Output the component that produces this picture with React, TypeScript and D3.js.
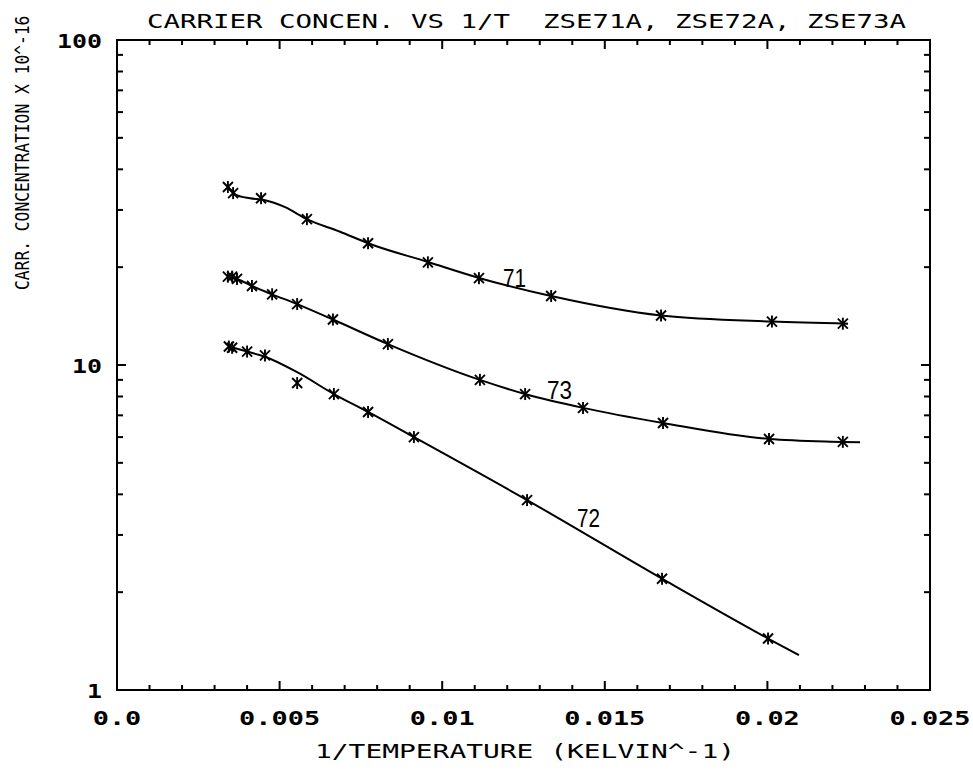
import React from "react";
import * as d3 from "d3";

// ---- data: 1/T (K^-1) vs carrier concentration (x 10^16) ----
const x71 = [0.00341, 0.00357, 0.00443, 0.00584, 0.00772, 0.00956, 0.01113, 0.01335, 0.01673, 0.02014, 0.02232];
const y71 = [35.3, 33.8, 32.6, 28.1, 23.7, 20.7, 18.5, 16.3, 14.2, 13.6, 13.4];

const x73 = [0.00341, 0.00354, 0.00369, 0.00415, 0.00477, 0.00554, 0.00664, 0.00833, 0.01116, 0.01255, 0.01433, 0.01679, 0.02005, 0.02232];
const y73 = [18.7, 18.7, 18.4, 17.5, 16.5, 15.4, 13.8, 11.6, 9.0, 8.14, 7.38, 6.63, 5.92, 5.8];

const x72 = [0.00344, 0.00354, 0.004, 0.00455, 0.00554, 0.00667, 0.00772, 0.00913, 0.01261, 0.01676, 0.02002];
const y72 = [11.4, 11.3, 11.0, 10.7, 8.8, 8.14, 7.17, 6.0, 3.84, 2.2, 1.44];

// fitted curves (knots of the smooth fit lines)
const fitX71 = [0.00341, 0.00366, 0.00409, 0.00452, 0.00517, 0.00584, 0.00686, 0.00772, 0.00956, 0.01116, 0.01335, 0.01673, 0.02014, 0.02248];
const fitY71 = [35.3, 33.4, 32.6, 32.2, 30.6, 28.1, 25.7, 23.7, 20.75, 18.5, 16.3, 14.2, 13.6, 13.4];

const fitX73 = [0.00341, 0.00369, 0.00415, 0.00477, 0.00554, 0.00664, 0.00833, 0.01116, 0.01255, 0.01433, 0.01679, 0.02005, 0.02232, 0.02285];
const fitY73 = [18.7, 18.4, 17.5, 16.5, 15.4, 13.8, 11.6, 9.0, 8.14, 7.38, 6.63, 5.92, 5.8, 5.78];

const fitX72 = [0.00344, 0.004, 0.00455, 0.00554, 0.00667, 0.00772, 0.00913, 0.01261, 0.01676, 0.02002, 0.02097];
const fitY72 = [11.4, 11.0, 10.6, 9.5, 8.14, 7.17, 6.0, 3.84, 2.2, 1.44, 1.28];

const xTickValues = [0, 0.005, 0.01, 0.015, 0.02, 0.025];
const xTickLabels = ["0.0", "0.005", "0.01", "0.015", "0.02", "0.025"];
const yTickValues = [1, 10, 100];
const yTickLabels = ["1", "10", "100"];

const titleText = "CARRIER CONCEN. VS 1/T  ZSE71A, ZSE72A, ZSE73A";
const xTitle = "1/TEMPERATURE (KELVIN^-1)";
const yTitle = "CARR. CONCENTRATION X 10^-16";

const W = 973;
const H = 771;
const left = 117, right = 930, top = 40, bottom = 690;
const FONT = "'DejaVu Sans Mono', monospace";

const xs = d3.scaleLinear().domain([0, 0.025]).range([left, right]);
const ys = d3.scaleLog().domain([1, 100]).range([bottom, top]);

function Mono({ x, y, text, pitch, size, anchor = "start", weight = "normal" }: any) {
  return (
    <text
      x={x}
      y={y}
      fontFamily={FONT}
      fontSize={size}
      fontWeight={weight}
      textAnchor={anchor}
      textLength={text.length * pitch}
      lengthAdjust="spacingAndGlyphs"
      fill="#000"
      style={{ whiteSpace: "pre" }}
    >
      {text}
    </text>
  );
}

function Marker({ cx, cy }: { cx: number; cy: number }) {
  const r = 5;
  return (
    <g stroke="#000" strokeWidth={1.9}>
      <line x1={cx - r} y1={cy - r} x2={cx + r} y2={cy + r} />
      <line x1={cx - r} y1={cy + r} x2={cx + r} y2={cy - r} />
      <line x1={cx} y1={cy - r - 1} x2={cx} y2={cy + r + 1} />
    </g>
  );
}

export default function App() {
  const line = d3
    .line<[number, number]>()
    .x((d) => xs(d[0]))
    .y((d) => ys(d[1]))
    .curve(d3.curveMonotoneX);

  const zip = (a: number[], b: number[]) => a.map((v, i) => [v, b[i]] as [number, number]);
  const curves = [zip(fitX71, fitY71), zip(fitX73, fitY73), zip(fitX72, fitY72)];
  const points = [zip(x71, y71), zip(x73, y73), zip(x72, y72)];

  const xMinor = d3.range(0, 0.0251, 0.001).filter((v) => Math.abs(v / 0.005 - Math.round(v / 0.005)) > 1e-6);
  const yMinor: number[] = [];
  [1, 10].forEach((dec) => {
    for (let k = 2; k <= 9; k++) yMinor.push(dec * k);
  });

  const maj = 9, min = 5;

  return (
    <svg width={W} height={H} style={{ position: "absolute", left: 0, top: 0, background: "#fff" }}>
      <rect x={0} y={0} width={W} height={H} fill="#fff" />
      {/* frame */}
      <rect x={left} y={top} width={right - left} height={bottom - top} fill="none" stroke="#000" strokeWidth={2} />

      {/* x ticks, bottom and top, pointing inward */}
      {xTickValues.map((v) => (
        <g key={"xM" + v} stroke="#000" strokeWidth={2}>
          <line x1={xs(v)} x2={xs(v)} y1={bottom} y2={bottom - maj} />
          <line x1={xs(v)} x2={xs(v)} y1={top} y2={top + maj} />
        </g>
      ))}
      {xMinor.map((v) => (
        <g key={"xm" + v} stroke="#000" strokeWidth={2}>
          <line x1={xs(v)} x2={xs(v)} y1={bottom} y2={bottom - min} />
          <line x1={xs(v)} x2={xs(v)} y1={top} y2={top + min} />
        </g>
      ))}

      {/* y ticks, left and right */}
      {yTickValues.map((v) => (
        <g key={"yM" + v} stroke="#000" strokeWidth={2}>
          <line x1={left} x2={left + maj} y1={ys(v)} y2={ys(v)} />
          <line x1={right} x2={right - maj} y1={ys(v)} y2={ys(v)} />
        </g>
      ))}
      {yMinor.map((v) => (
        <g key={"ym" + v} stroke="#000" strokeWidth={2}>
          <line x1={left} x2={left + min + 1} y1={ys(v)} y2={ys(v)} />
          <line x1={right} x2={right - min - 1} y1={ys(v)} y2={ys(v)} />
        </g>
      ))}

      {/* tick labels */}
      {xTickValues.map((v, i) => (
        <Mono key={"xl" + v} x={xs(v)} y={725} text={xTickLabels[i]} pitch={16.2} size={20} anchor="middle" weight="bold" />
      ))}
      {yTickValues.map((v, i) => (
        <Mono key={"yl" + v} x={102} y={ys(v) + 7.5} text={yTickLabels[i]} pitch={15} size={20} anchor="end" weight="bold" />
      ))}

      {/* titles */}
      <Mono x={147} y={28} text={titleText} pitch={16.5} size={20} />
      <Mono x={315} y={758} text={xTitle} pitch={16.8} size={20} />
      <g transform="translate(29,290) rotate(-90) scale(1,1.2)">
        <text
          x={0}
          y={0}
          fontFamily={FONT}
          fontSize={16.2}
          textLength={yTitle.length * 9.8}
          lengthAdjust="spacingAndGlyphs"
          fill="#000"
        >
          {yTitle}
        </text>
      </g>

      {/* fitted curves */}
      {curves.map((c, i) => (
        <path key={"c" + i} d={line(c) || ""} fill="none" stroke="#000" strokeWidth={2} />
      ))}

      {/* measured points */}
      {points.map((pts, i) =>
        pts.map((p, j) => <Marker key={`p${i}-${j}`} cx={xs(p[0])} cy={ys(p[1])} />)
      )}

      {/* curve labels */}
      <text x={503} y={287} fontFamily="'Liberation Sans', sans-serif" fontSize={26} textLength={23} lengthAdjust="spacingAndGlyphs">71</text>
      <text x={547} y={399} fontFamily="'Liberation Sans', sans-serif" fontSize={26} textLength={25} lengthAdjust="spacingAndGlyphs">73</text>
      <text x={577} y={527} fontFamily="'Liberation Sans', sans-serif" fontSize={26} textLength={23} lengthAdjust="spacingAndGlyphs">72</text>
    </svg>
  );
}
